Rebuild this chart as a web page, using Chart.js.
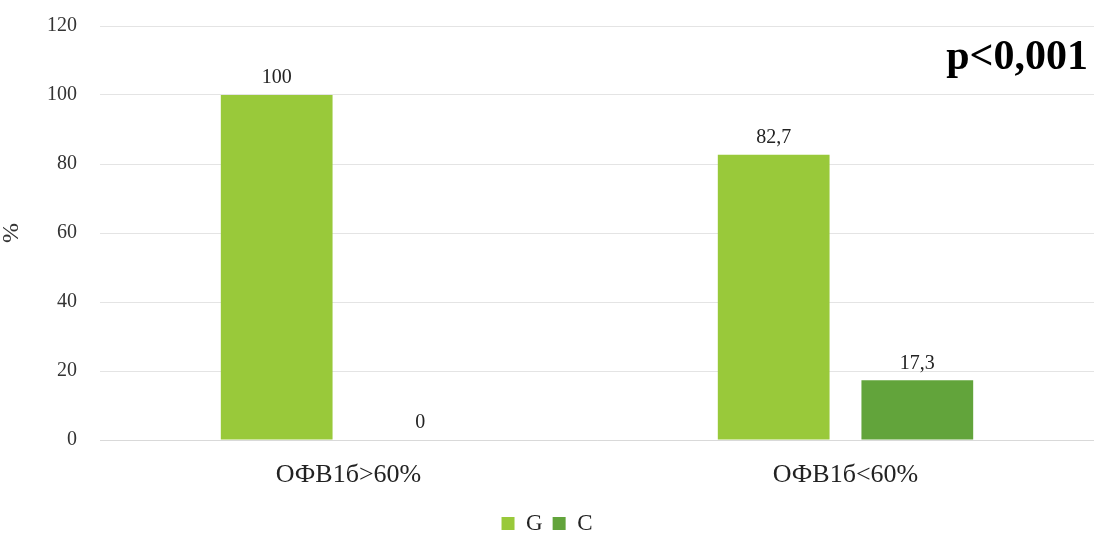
<!DOCTYPE html>
<html>
<head>
<meta charset="utf-8">
<script src="https://cdn.jsdelivr.net/npm/chart.js@4"></script>
<style>
  html, body { margin: 0; padding: 0; background: #fff; overflow: hidden; }
  #wrap { width: 1094px; height: 552px; margin-top: -7px; }
</style>
</head>
<body>
<div id="wrap"><canvas id="myChart"></canvas></div>
<script>
const categories = ['ОФВ1б>60%', 'ОФВ1б<60%'];
const seriesG = [100, 82.7];
const seriesC = [0, 17.3];
const seriesNames = ['G', 'C'];
const pText = 'p<0,001';

const serif = '"Liberation Serif", "Times New Roman", serif';

// value labels above bars, with comma decimals
const barLabels = {
  id: 'barLabels',
  afterDatasetsDraw(chart) {
    const c = chart.ctx;
    c.save();
    c.font = '20px ' + serif;
    c.fillStyle = '#222';
    c.textAlign = 'center';
    c.textBaseline = 'bottom';
    chart.data.datasets.forEach((ds, i) => {
      chart.getDatasetMeta(i).data.forEach((bar, j) => {
        const txt = String(ds.data[j]).replace('.', ',');
        c.fillText(txt, bar.x, bar.y - 7);
      });
    });
    // p-value note (canvas is shifted up 7px)
    c.font = 'bold 42px ' + serif;
    c.fillStyle = '#000';
    c.textAlign = 'right';
    c.textBaseline = 'middle';
    c.fillText(pText, 1088, 65);
    c.restore();
  }
};

const cfg = {
  type: 'bar',
  data: {
    labels: categories,
    datasets: [
      { label: seriesNames[0], data: seriesG, backgroundColor: '#99c93a' },
      { label: seriesNames[1], data: seriesC, backgroundColor: '#62a43b' }
    ]
  },
  options: {
    responsive: true,
    maintainAspectRatio: false,
    animation: false,
    categoryPercentage: 0.578,
    barPercentage: 0.778,
    layout: { padding: { top: 0, right: 0, left: 0, bottom: 0 } },
    plugins: {
      legend: {
        position: 'bottom',
        labels: {
          font: { family: serif, size: 23, lineHeight: 1 },
          color: '#222',
          boxWidth: 13,
          boxHeight: 13,
          padding: 10
        }
      },
      tooltip: { enabled: false }
    },
    scales: {
      x: {
        grid: { display: false },
        border: { color: '#d9d9d9' },
        ticks: { font: { family: serif, size: 26, lineHeight: 1 }, color: '#222', padding: 14 }
      },
      y: {
        min: 0,
        max: 120,
        ticks: { stepSize: 20, font: { family: serif, size: 20, lineHeight: 1 }, color: '#333', padding: 23 },
        grid: { color: '#e4e4e4', drawTicks: false },
        border: { display: false },
        title: { display: true, text: '%', font: { family: serif, size: 24, lineHeight: 1 }, color: '#333', padding: 0 }
      }
    }
  },
  plugins: [barLabels]
};

let cht = new Chart(document.getElementById('myChart'), cfg);
</script>
</body>
</html>
